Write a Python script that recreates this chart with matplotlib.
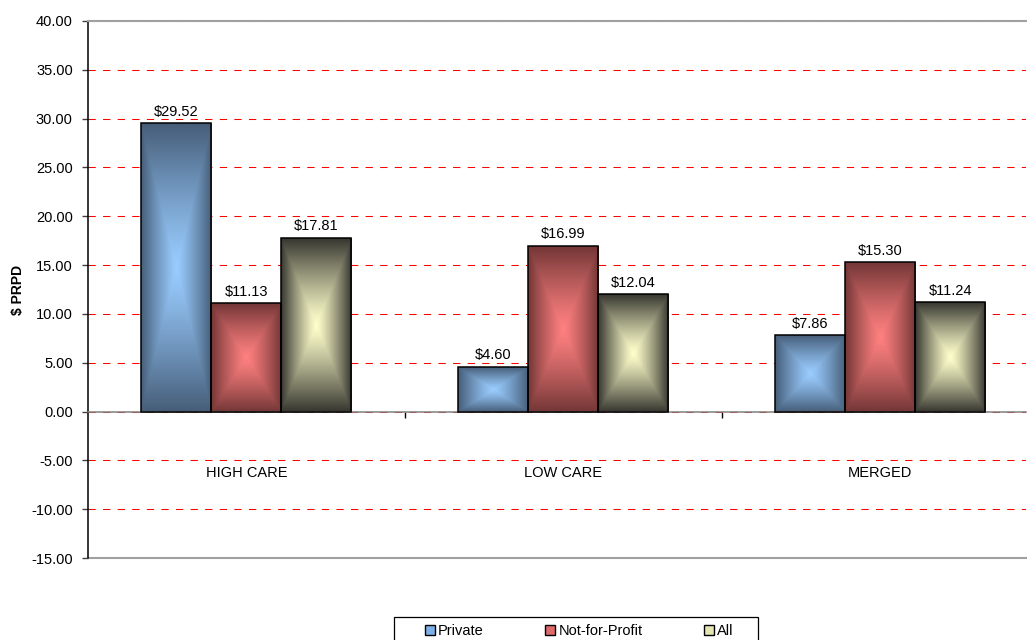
import numpy as np
import matplotlib
matplotlib.use('Agg')
import matplotlib.pyplot as plt
from matplotlib.patches import Patch, Rectangle
from matplotlib.ticker import FixedLocator, FuncFormatter

plt.rcParams['font.family'] = ['Liberation Sans', 'DejaVu Sans']

categories = ['HIGH CARE', 'LOW CARE', 'MERGED']
series = ['Private', 'Not-for-Profit', 'All']
private = [29.52, 4.60, 7.86]
not_for_profit = [11.13, 16.99, 15.30]
all_homes = [17.81, 12.04, 11.24]

# (centre colour, edge colour, legend swatch) for each series
shades = [
    ('#99CCFF', '#465D78', '#7DB0E6'),
    ('#FF8080', '#733636', '#E06A6A'),
    ('#FFFFCC', '#363630', '#E6E6B4'),
]


def to_rgb(c):
    return np.array(matplotlib.colors.to_rgb(c))


def shade_bar(ax, bar, centre, edge, n=256):
    # rectangular "from centre" gradient, clipped to the bar outline
    x, w, h = bar.get_x(), bar.get_width(), bar.get_height()
    u = np.abs(np.linspace(-1, 1, n))
    t = np.maximum(u[None, :], u[:, None]) ** 1.2
    c0, c1 = to_rgb(centre), to_rgb(edge)
    rgb = c0 + (c1 - c0) * t[..., None]
    im = ax.imshow(rgb, extent=(x, x + w, 0, h), aspect='auto',
                   interpolation='bilinear', zorder=2)
    im.set_clip_path(bar)


W, H = 1027, 640
fig = plt.figure(figsize=(W / 100, H / 100), dpi=100)
ax = fig.add_axes([88 / W, 1 - 558 / H, 938 / W, 537 / H])

xpos = np.arange(len(categories))
width = 0.221
values = [private, not_for_profit, all_homes]
for i, (vals, (centre, edge, _)) in enumerate(zip(values, shades)):
    bars = ax.bar(xpos + (i - 1) * width, vals, width=width, facecolor='none',
                  edgecolor='black', linewidth=1.1, zorder=3)
    for bar, v in zip(bars, vals):
        shade_bar(ax, bar, centre, edge)
        ax.annotate(f'${v:.2f}', (bar.get_x() + bar.get_width() / 2, v),
                    xytext=(0, 3), textcoords='offset points',
                    ha='center', va='bottom', fontsize=10.5)

ax.set_xlim(-0.5, 2.46)
ax.set_ylim(-15, 40)

# y axis
ax.yaxis.set_major_locator(FixedLocator(np.arange(-15, 41, 5)))
ax.yaxis.set_major_formatter(FuncFormatter(lambda y, _: f'{y:.2f}'))
ax.tick_params(axis='y', direction='out', length=4, width=1, color='#404040',
               labelsize=10.5, pad=7)
ax.set_ylabel('$ PRPD', fontsize=10, fontweight='bold')
ax.yaxis.set_label_coords(-0.067, 0.5)

ax.set_axisbelow(True)
ax.yaxis.grid(True, color='#FF0000', linewidth=0.75, linestyle=(0, (7, 7)))

# category axis sits on zero, labels hang well below it
ax.spines['bottom'].set_position(('data', 0))
ax.spines['bottom'].set_color('#808080')
ax.spines['bottom'].set_linewidth(1.1)
ax.set_xticks(xpos)
ax.set_xticklabels(categories, fontsize=10.5)
ax.set_xticks([0.5, 1.5], minor=True)
ax.tick_params(axis='x', which='major', length=0, pad=39)
ax.tick_params(axis='x', which='minor', direction='out', length=4, width=1,
               color='black')

ax.spines['left'].set_color('black')
ax.spines['left'].set_linewidth(1.1)
ax.spines['top'].set_color('#A0A0A0')
ax.spines['top'].set_linewidth(1.5)
ax.spines['right'].set_visible(False)
ax.axhline(-15, color='#A0A0A0', linewidth=1.5, zorder=2.5, clip_on=False)

# legend entries without a frame, boxed separately so the box can be wider
handles = [Patch(facecolor=s[2], edgecolor='black', linewidth=1) for s in shades]
fig.legend(handles, series, loc='upper left',
           bbox_to_anchor=(425 / W, 1 - 624 / H), ncol=3, fontsize=10.5,
           frameon=False, handlelength=0.7, handleheight=0.7,
           handletextpad=0.2, columnspacing=4.2, borderpad=0,
           borderaxespad=0)
fig.add_artist(Rectangle((394 / W, 1 - 648 / H), 364 / W, 31 / H,
                         transform=fig.transFigure, facecolor='none',
                         edgecolor='black', linewidth=0.9, clip_on=False))

fig.savefig('out.png', dpi=100)
